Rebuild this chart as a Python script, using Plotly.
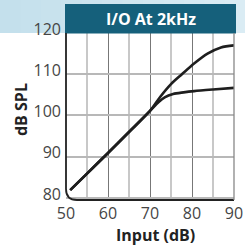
import plotly.graph_objects as go

# ---- data ----
input_upper = [51, 55, 60, 65, 70, 72.5, 75, 77.6, 80.5, 83.7, 86.9, 90]
spl_upper = [81.9, 85.9, 90.9, 96.0, 101.1, 104.6, 107.6, 110.0, 112.6, 115.0, 116.5, 117.0]

input_lower = [51, 55, 60, 65, 70, 72, 73.5, 75.5, 78, 80.5, 85, 90]
spl_lower = [81.9, 85.9, 90.9, 96.0, 101.1, 103.2, 104.4, 105.2, 105.6, 105.9, 106.3, 106.7]

x_ticks = [50, 60, 70, 80, 90]
y_ticks = [80, 90, 100, 110, 120]

title_text = "I/O At 2kHz"
x_title = "Input (dB)"
y_title = "dB SPL"

W, H = 245, 251
ML, MR, MT, MB = 66, 11, 33, 51
PW = W - ML - MR
PH = H - MT - MB

def px(xp):
    return (xp - ML) / PW

def py(yp):
    return 1 - (yp - MT) / PH

fig = go.Figure()
for xs, ys in [(input_lower, spl_lower), (input_upper, spl_upper)]:
    fig.add_trace(go.Scatter(x=xs, y=ys, mode="lines",
                             line=dict(color="#1e1e1e", width=2.6, shape="spline", smoothing=0.8),
                             hoverinfo="skip", showlegend=False))

shapes = []
n = 12
c0 = (196, 224, 236)
c1 = (218, 236, 244)
for i in range(n):
    t = i / (n - 1)
    col = "rgb(%d,%d,%d)" % tuple(round(a + (b - a) * t) for a, b in zip(c0, c1))
    shapes.append(dict(type="rect", xref="paper", yref="paper", layer="below",
                       x0=px(i * W / n), x1=px((i + 1) * W / n + 1), y0=py(MT), y1=py(0),
                       line=dict(width=0), fillcolor=col))
shapes.append(dict(type="rect", xref="paper", yref="paper", layer="above",
                   x0=px(65), x1=px(236), y0=py(33.5), y1=py(4),
                   line=dict(width=0), fillcolor="#15607b"))
rx, ry = 11 / PW, 11 / PH
shapes.append(dict(type="path", xref="paper", yref="paper", layer="above",
                   path=f"M 0,1 L 0,{ry} Q 0,0 {rx},0 L 1,0",
                   line=dict(color="#222222", width=1.8)))
shapes.append(dict(type="line", xref="paper", yref="paper", x0=1, x1=1, y0=0, y1=1,
                   line=dict(color="#888888", width=1.3), layer="above"))

tick_font = dict(family="Open Sans", size=16, color="#454545")

fig.update_layout(
    width=W, height=H,
    margin=dict(l=ML, r=MR, t=MT, b=MB, autoexpand=False),
    paper_bgcolor="white", plot_bgcolor="white",
    shapes=shapes,
    xaxis=dict(range=[50, 90], tickmode="linear", tick0=50, dtick=10, ticks="",
               showline=False, zeroline=False,
               showgrid=True, gridcolor="#777777", gridwidth=1.3,
               minor=dict(tickmode="linear", tick0=55, dtick=10, showgrid=True,
                          gridcolor="#c8c8c8", gridwidth=1.5),
               tickfont=tick_font, ticklabelstandoff=2, automargin=False, fixedrange=True),
    yaxis=dict(range=[79.5, 120], tickvals=y_ticks, ticks="", showgrid=True,
               gridcolor="#b8b8b8", gridwidth=1.8,
               zeroline=False, showline=False, ticklabelstandoff=4, ticklabelshift=-4,
               tickfont=tick_font, automargin=False, fixedrange=True),
    annotations=[
        dict(text="<b>%s</b>" % title_text, xref="paper", yref="paper", x=px(150.5), y=py(19),
             xanchor="center", yanchor="middle", showarrow=False,
             font=dict(family="Open Sans", size=16, color="white")),
        dict(text="<b>%s</b>" % x_title, xref="paper", yref="paper", x=px(155), y=py(235),
             xanchor="center", yanchor="middle", showarrow=False,
             font=dict(family="Open Sans", size=16, color="#222222")),
        dict(text="<b>%s</b>" % y_title, xref="paper", yref="paper", x=px(21), y=py(110),
             xanchor="center", yanchor="middle", showarrow=False, textangle=-90,
             font=dict(family="Open Sans", size=16, color="#222222")),
    ],
)

fig.write_html("out.html", config={"displayModeBar": False},
               post_script="document.body.style.margin='0';document.body.style.padding='0';")
